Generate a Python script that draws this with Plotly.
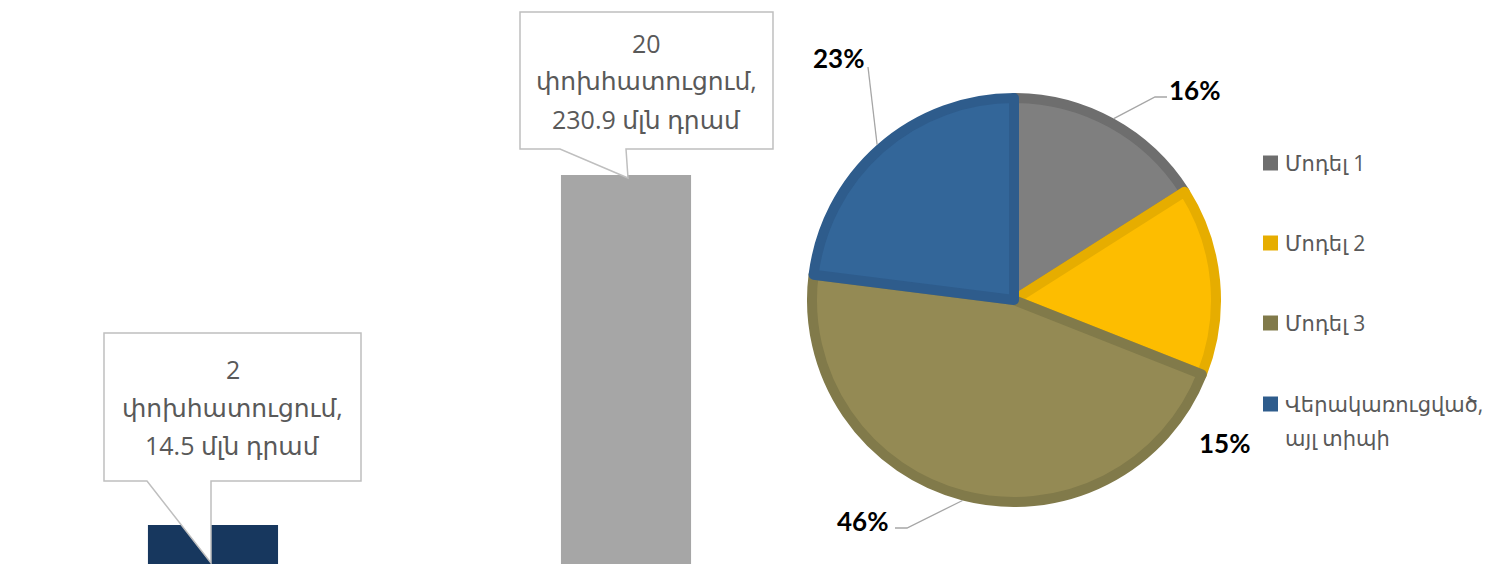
import math
import plotly.graph_objects as go

# bar data: number of compensations and amount (mln AMD)
bar_counts = [2, 20]
bar_amounts = [14.5, 230.9]
bar_colors = ['#17375e', '#a6a6a6']

# pie data
pie_labels = ['Մոդել 1', 'Մոդել 2', 'Մոդել 3', 'Վերակառուցված,<br>այլ տիպի']
pie_values = [16, 15, 46, 23]
pie_fill = ['#7f7f7f', '#fdbd00', '#948a54', '#336699']
pie_edge = ['#6e6e6e', '#e6ad00', '#817a4a', '#2e5c8c']

W, H = 1500, 564


def px(x, y):
    """pixel position -> paper coordinates"""
    return x / W, 1 - y / H


fig = go.Figure()

# Bars
fig.add_trace(go.Bar(
    x=[1, 2],
    y=bar_counts,
    width=0.315,
    marker=dict(color=bar_colors, line=dict(width=0)),
    showlegend=False,
    hovertemplate="%{y}<extra></extra>"
))

# Pie
cx, cy, r = 1014, 300, 202
fig.add_trace(go.Pie(
    labels=[l.replace('<br>', ' ') for l in pie_labels],
    values=pie_values,
    sort=False,
    direction='clockwise',
    rotation=0,
    textinfo='none',
    marker=dict(colors=pie_fill, line=dict(color=pie_edge, width=10)),
    domain=dict(x=[(cx - r) / W, (cx + r) / W],
                y=[1 - (cy + r) / H, 1 - (cy - r) / H]),
    showlegend=False,
    hoverinfo='label+percent'
))

shapes = []
annotations = []

# Callouts for the bars
callout_boxes = [(104, 333, 361, 481), (520, 12, 773, 149)]
callout_tails = [(147, 211, 211, 563), (560, 626, 628, 178)]
for i, (n, amt) in enumerate(zip(bar_counts, bar_amounts)):
    x0, y0, x1, y1 = callout_boxes[i]
    tl, tr, tx, ty = callout_tails[i]
    pts = [(x0, y0), (x1, y0), (x1, y1), (tr, y1), (tx, ty), (tl, y1), (x0, y1)]
    path = "M " + " L ".join("%f,%f" % px(a, b) for a, b in pts) + " Z"
    shapes.append(dict(type='path', path=path, xref='paper', yref='paper',
                       fillcolor='white', line=dict(color='#bfbfbf', width=1.5),
                       layer='above'))
    lines = [str(n), 'փոխհատուցում,', f'{amt} մլն դրամ']
    xc = (x0 + x1) / 2
    yc = (y0 + y1) / 2
    for j, t in enumerate(lines):
        ax_, ay_ = px(xc, yc + (j - 1) * 38)
        annotations.append(dict(x=ax_, y=ay_, xref='paper', yref='paper',
                                xanchor='center', yanchor='middle',
                                text=t, showarrow=False,
                                font=dict(size=25, color='#595959',
                                          family='Open Sans, DejaVu Sans')))

# Pie percent labels with leader lines
label_pos = [(1194, 90), (1224, 443), (862, 521), (838, 58)]
elbows = [[(1155, 97), (1167, 97)], [], [(907, 528), (895, 528)], [(868, 67)]]
total = sum(pie_values)
cum = 0
for i, v in enumerate(pie_values):
    a = 2 * math.pi * (cum + v / 2) / total
    cum += v
    ex = cx + 207 * math.sin(a)
    ey = cy - 207 * math.cos(a)
    if elbows[i]:
        pts = [(ex, ey)] + elbows[i]
        path = "M " + " L ".join("%f,%f" % px(p, q) for p, q in pts)
        shapes.append(dict(type='path', path=path, xref='paper', yref='paper',
                           line=dict(color='#a6a6a6', width=1.3)))
    lx, ly = px(*label_pos[i])
    annotations.append(dict(x=lx, y=ly, xref='paper', yref='paper',
                            xanchor='center', yanchor='middle',
                            text=f'<b>{round(100 * v / total)}%</b>', showarrow=False,
                            font=dict(size=26, color='#000000', family='Lato')))

# Manual legend
legend_y = [163, 243, 323, 404]
for i, lab in enumerate(pie_labels):
    yy = legend_y[i]
    x0, y0 = px(1263, yy - 7.5)
    x1, y1 = px(1278, yy + 7.5)
    shapes.append(dict(type='rect', xref='paper', yref='paper',
                       x0=x0, x1=x1, y0=y0, y1=y1,
                       fillcolor=pie_edge[i], line=dict(width=0)))
    for j, t in enumerate(lab.split('<br>')):
        tx, ty = px(1283, yy + j * 34)
        annotations.append(dict(x=tx, y=ty, xref='paper', yref='paper',
                                text=t, showarrow=False,
                                xanchor='left', yanchor='middle',
                                font=dict(size=21, color='#595959',
                                          family='Open Sans, DejaVu Sans')))

fig.update_layout(
    width=W,
    height=H,
    autosize=False,
    margin=dict(l=0, r=0, t=0, b=0),
    paper_bgcolor='white',
    plot_bgcolor='white',
    xaxis=dict(domain=[0, 0.55], range=[0.4843, 2.4818], visible=False),
    yaxis=dict(range=[0, 29], visible=False),
    shapes=shapes,
    annotations=annotations,
    showlegend=False
)

# drop the default page margin so the figure sits at the top-left corner
fig.write_html("out.html", config={'displayModeBar': False},
               post_script="document.body.style.margin='0';")
